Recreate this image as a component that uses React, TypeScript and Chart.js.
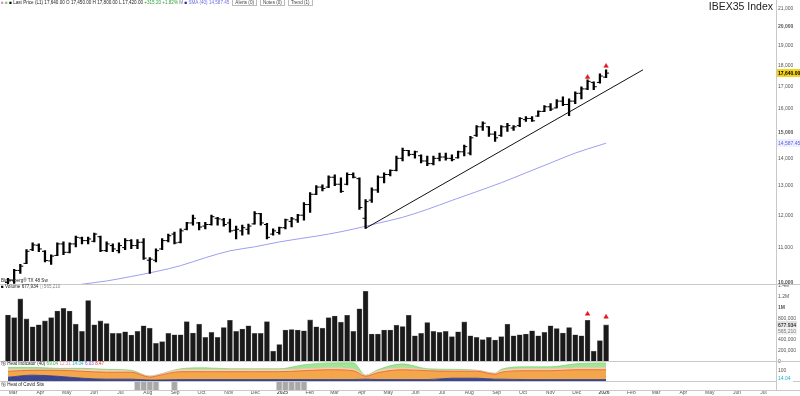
import React, { useEffect, useRef } from "react";
import { Chart, registerables } from "chart.js";

Chart.register(...registerables);

const FONT = "'Liberation Sans', Arial, sans-serif";
const DAY = 86400000;
const WEEK = 7 * DAY;
const FIRST_WEEK = Date.UTC(2024, 1, 26); // week index 0 = week of 26 Feb 2024

// ---- weekly OHLC (IBEX35 Index) ----
const opens = [
  10000, 10060, 10330, 10530, 10930, 11060, 10880, 10600, 10760, 11100,
  10850, 11100, 11280, 11200, 11180, 11320, 10900, 11050, 10900, 10990,
  11200, 11050, 11150, 10620, 10620, 10950, 11200, 11400, 11150, 11550,
  11750, 11750, 11650, 11700, 11900, 11850, 11750, 11520, 11500, 11550,
  11720, 12050, 11700, 11400, 11450, 11600, 11800, 11850, 12000, 12350,
  12700, 12950, 12950, 13300, 13050, 13050, 13400, 13250, 11900, 12500,
  12850, 13300, 13400, 13550, 14000, 14300, 14150, 14100, 13900, 13800,
  14000, 14050, 14000, 14020, 14250, 14200, 14900, 15250, 15250, 14950,
  14900, 15250, 15200, 15300, 15550, 15600, 15700, 15900, 16100, 16050,
  16350, 16200, 16350, 16700, 16900, 17200, 17200, 17450,
];
const highs = [
  10110, 10360, 10500, 10930, 11130, 11100, 10900, 10780, 11130, 11160,
  11130, 11340, 11310, 11310, 11430, 11340, 11160, 11100, 11130, 11260,
  11230, 11230, 11260, 10700, 10950, 11260, 11400, 11460, 11560, 11770,
  12000, 11770, 11770, 12000, 11930, 11900, 11870, 11650, 11680, 11710,
  12120, 12060, 11740, 11560, 11620, 11870, 11930, 12030, 12420, 12760,
  13000, 13030, 13350, 13390, 13280, 13460, 13460, 13280, 12520, 12920,
  13350, 13460, 13570, 14090, 14390, 14310, 14280, 14130, 14090, 14090,
  14200, 14200, 14130, 14280, 14510, 14860, 15300, 15460, 15260, 15050,
  15300, 15390, 15300, 15640, 15680, 15680, 15930, 16150, 16240, 16420,
  16540, 16450, 16770, 16990, 17320, 17230, 17600, 17800,
];
const lows = [
  9960, 9970, 10250, 10520, 10900, 10870, 10570, 10500, 10750, 10780,
  10830, 11010, 11100, 11100, 11160, 10870, 10870, 10870, 10830, 10930,
  10960, 10960, 10640, 10250, 10570, 10930, 11160, 11100, 11130, 11530,
  11680, 11530, 11560, 11680, 11680, 11650, 11460, 11250, 11370, 11400,
  11710, 11680, 11250, 11370, 11400, 11560, 11620, 11770, 11840, 12090,
  12690, 12820, 12930, 13000, 12760, 13030, 13280, 12190, 11580, 12420,
  12760, 13100, 13350, 13530, 13900, 14090, 14010, 13830, 13720, 13750,
  13900, 13930, 13900, 14010, 14090, 14130, 14860, 15100, 14860, 14660,
  14860, 15060, 15100, 15260, 15470, 15470, 15680, 15890, 15930, 16050,
  16150, 15720, 16240, 16450, 16860, 16860, 17170, 17420,
];
const closes = [
  10060, 10330, 10450, 10880, 11070, 10950, 10610, 10740, 11100, 10850,
  11100, 11300, 11200, 11250, 11400, 10900, 11100, 10950, 11050, 11200,
  11050, 11150, 10680, 10650, 10900, 11200, 11350, 11130, 11500, 11750,
  11900, 11620, 11700, 11950, 11880, 11700, 11500, 11550, 11600, 11650,
  12050, 11750, 11300, 11500, 11600, 11850, 11880, 12000, 12350, 12700,
  12950, 12900, 13300, 13050, 12800, 13400, 13300, 12250, 12450, 12850,
  13300, 13400, 13550, 14000, 14300, 14150, 14250, 13900, 13800, 14000,
  14050, 14000, 13950, 14250, 14450, 14800, 15250, 15400, 14950, 14800,
  15250, 15300, 15250, 15600, 15600, 15500, 15900, 16100, 16000, 16350,
  16200, 16350, 16700, 16900, 17250, 17000, 17500, 17640,
];
const volumes = [
  862000, 813000, 1161000, 789000, 642000, 679000, 752000, 813000, 936000, 985000,
  936000, 692000, 556000, 1132000, 679000, 752000, 703000, 519000, 519000, 550000,
  490000, 556000, 661000, 618000, 334000, 367000, 519000, 495000, 495000, 739000,
  527000, 692000, 446000, 538000, 446000, 629000, 765000, 556000, 600000, 661000,
  519000, 519000, 739000, 189000, 312000, 582000, 593000, 582000, 569000, 771000,
  642000, 618000, 813000, 844000, 728000, 857000, 556000, 978000, 1303000, 508000,
  508000, 582000, 582000, 673000, 648000, 857000, 477000, 519000, 721000, 556000,
  538000, 556000, 459000, 550000, 734000, 477000, 446000, 404000, 446000, 398000,
  459000, 692000, 477000, 495000, 508000, 569000, 477000, 538000, 661000, 611000,
  527000, 629000, 495000, 477000, 765000, 189000, 385000, 677934,
];
const volumeAvg = 565210;

// ---- moving average (read at sampled weeks) ----
const maWeeks = [0, 4, 8, 12, 16, 20, 24, 28, 32, 36, 40, 44, 48, 52, 56, 60, 64, 68, 72, 76, 80, 84, 88, 92, 96, 97];
const maValues = [9620, 9720, 9830, 9950, 10040, 10162, 10299, 10465, 10692, 10894, 11013, 11160, 11279, 11400, 11555, 11741, 11931, 12190, 12490, 12790, 13104, 13460, 13826, 14202, 14510, 14587.45];

// ---- trend line ----
const trendWeeks = [58, 103];
const trendValues = [11580, 17800];

// ---- signal markers ----
const signalWeeks = [94, 97];
const signalPrices = [17450, 17980];
const signalVolumes = [881000, 826000];

// ---- indicator pane (stacked layers) ----
const indWeeks = [0, 4, 8, 12, 16, 20, 23, 24, 28, 32, 36, 40, 44, 48, 52, 56, 58, 60, 64, 68, 72, 76, 79, 80, 84, 88, 92, 96, 97];
const indBase = [36, 55, 45, 27, 18, 18, 10, 10, 14, 14, 14, 14, 14, 14, 14, 14, 18, 14, 14, 14, 27, 27, 18, 18, 14, 14, 14, 14, 14];
const indMid = [55, 45, 55, 64, 64, 64, 27, 36, 73, 73, 73, 73, 73, 82, 91, 82, 27, 64, 91, 82, 64, 64, 45, 64, 82, 82, 91, 91, 91];
const indUpper = [18, 9, 9, 18, 18, 9, 9, 9, 18, 18, 18, 18, 18, 18, 18, 18, 9, 18, 18, 9, 9, 9, 9, 18, 18, 18, 18, 18, 18];
const indTop = [18, 18, 9, 9, 9, 9, 0, 0, 9, 18, 9, 9, 9, 36, 45, 55, 0, 9, 36, 9, 9, 0, 0, 9, 18, 18, 36, 45, 45];

// ---- heat pane ----
const heatWeeks = [21, 22, 23, 24, 27, 44, 45, 46, 47, 48];

// ---- axis ticks ----
const priceTicks = [10000, 11000, 12000, 13000, 14000, 15000, 16000, 17000, 18000, 19000, 20000, 21000];
const boldPriceTicks = [10000, 15000, 20000];
const volumeTicks = [0, 200000, 400000, 600000, 800000, 1000000, 1200000, 1400000];
const volumeTickLabels = ["0", "200,000", "400,000", "600,000", "800,000", "1M", "1.2M", "1.4M"];
const indTicks = [100];
const monthTickDates = [
  "2024-03-01", "2024-04-01", "2024-05-01", "2024-06-01", "2024-07-01", "2024-08-01", "2024-09-01", "2024-10-01", "2024-11-01", "2024-12-01",
  "2025-01-01", "2025-02-01", "2025-03-01", "2025-04-01", "2025-05-01", "2025-06-01", "2025-07-01", "2025-08-01", "2025-09-01", "2025-10-01", "2025-11-01", "2025-12-01",
  "2026-01-01", "2026-02-01", "2026-03-01", "2026-04-01", "2026-05-01", "2026-06-01", "2026-07-01",
];
const monthLabels = [
  "Mar", "Apr", "May", "Jun", "Jul", "Aug", "Sep", "Oct", "Nov", "Dec",
  "2025", "Feb", "Mar", "Apr", "May", "Jun", "Jul", "Aug", "Sep", "Oct", "Nov", "Dec",
  "2026", "Feb", "Mar", "Apr", "May", "Jun", "Jul",
];

const wk = (i: number) => FIRST_WEEK + i * WEEK;
const TICK_OFF = 0.24 * WEEK;
const X_MIN = FIRST_WEEK - 0.483 * WEEK;
const X_MAX = FIRST_WEEK + 124.56 * WEEK;

const fmt = (v: number, d = 0) =>
  v.toLocaleString("en-US", { minimumFractionDigits: d, maximumFractionDigits: d });

function drawTag(ctx: CanvasRenderingContext2D, x: number, y: number, w: number, text: string, bg: string, fg: string, bold = false) {
  ctx.fillStyle = bg;
  ctx.fillRect(x, Math.round(y) - 4, w, 8);
  ctx.fillStyle = fg;
  ctx.font = `${bold ? "bold " : ""}5px ${FONT}`;
  ctx.textAlign = "left";
  ctx.textBaseline = "middle";
  ctx.fillText(text, x + 1, Math.round(y) + 0.5);
}

const panesPlugin = {
  id: "panes",
  afterDraw(chart: any) {
    const { ctx, scales, chartArea } = chart;
    const { y, yv, yi, yh } = scales;
    ctx.save();
    ctx.strokeStyle = "#c9c9c9";
    ctx.lineWidth = 1;
    [yv.top, yi.top, yh.top, yh.bottom].forEach((py: number) => {
      const p = Math.round(py) + 0.5;
      ctx.beginPath();
      ctx.moveTo(0, p);
      ctx.lineTo(chart.width, p);
      ctx.stroke();
    });
    ctx.beginPath();
    ctx.moveTo(Math.round(chartArea.right) + 0.5, 0);
    ctx.lineTo(Math.round(chartArea.right) + 0.5, yh.bottom);
    ctx.stroke();

    const tx = chartArea.right + 1;
    drawTag(ctx, tx, y.getPixelForValue(closes[closes.length - 1]), 23, fmt(closes[closes.length - 1], 2), "#f3d31c", "#000", true);
    drawTag(ctx, tx, y.getPixelForValue(maValues[maValues.length - 1]), 23, fmt(maValues[maValues.length - 1], 2), "#eef0ff", "#5d5de0");
    drawTag(ctx, tx, yv.getPixelForValue(volumes[volumes.length - 1]), 20, fmt(volumes[volumes.length - 1]), "#e2e2e2", "#000");
    drawTag(ctx, tx, yv.getPixelForValue(volumeAvg), 20, fmt(volumeAvg), "#f2f2f2", "#777");
    drawTag(ctx, tx, yi.getPixelForValue(30), 16, "14.04", "#ffffff", "#1ab4c8");
    ctx.restore();
  },
};

export default function App() {
  const ref = useRef<HTMLCanvasElement | null>(null);

  useEffect(() => {
    document.body.style.margin = "0";
    const canvas = ref.current;
    if (!canvas) return;

    const yCommon = (weight: number) => ({
      position: "right" as const,
      stack: "panes",
      stackWeight: weight,
      grid: { display: false, drawTicks: false },
      border: { display: true, color: "#c9c9c9" },
      afterFit: (s: any) => {
        s.width = 24;
      },
    });

    const chart = new Chart(canvas, {
      type: "bar",
      data: {
        datasets: [
          {
            type: "bar",
            label: "High-Low",
            data: highs.map((h, i) => ({ x: wk(i), y: [lows[i], h] })) as any,
            xAxisID: "x",
            yAxisID: "y",
            backgroundColor: "#000",
            borderWidth: 0,
            barThickness: 1.6,
            grouped: false,
          },
          {
            type: "line",
            label: "Open",
            data: opens.map((o, i) => ({ x: wk(i) - TICK_OFF, y: o })),
            xAxisID: "x",
            yAxisID: "y",
            showLine: false,
            pointStyle: "line",
            pointRadius: 1.5,
            pointBorderWidth: 1,
            borderColor: "#000",
            pointBorderColor: "#000",
          },
          {
            type: "line",
            label: "Close",
            data: closes.map((c, i) => ({ x: wk(i) + TICK_OFF, y: c })),
            xAxisID: "x",
            yAxisID: "y",
            showLine: false,
            pointStyle: "line",
            pointRadius: 1.5,
            pointBorderWidth: 1,
            borderColor: "#000",
            pointBorderColor: "#000",
          },
          {
            type: "line",
            label: "Signals",
            data: signalWeeks.map((w, i) => ({ x: wk(w), y: signalPrices[i] })),
            xAxisID: "x",
            yAxisID: "y",
            showLine: false,
            pointStyle: "triangle",
            pointRadius: 2.6,
            pointBackgroundColor: "#e8141b",
            pointBorderColor: "#e8141b",
            pointBorderWidth: 0.5,
          },
          {
            type: "line",
            label: "Trend",
            data: trendWeeks.map((w, i) => ({ x: wk(w), y: trendValues[i] })),
            xAxisID: "x",
            yAxisID: "y",
            borderColor: "#111",
            borderWidth: 1,
            pointRadius: 0,
          },
          {
            type: "line",
            label: "SMA",
            data: maWeeks.map((w, i) => ({ x: wk(w), y: maValues[i] })),
            xAxisID: "x",
            yAxisID: "y",
            borderColor: "#9e9ef2",
            borderWidth: 1,
            pointRadius: 0,
            cubicInterpolationMode: "monotone",
          },
          {
            type: "line",
            label: "Volume signals",
            data: signalWeeks.map((w, i) => ({ x: wk(w), y: signalVolumes[i] })),
            xAxisID: "x",
            yAxisID: "yv",
            showLine: false,
            pointStyle: "triangle",
            pointRadius: 2.6,
            pointBackgroundColor: "#e8141b",
            pointBorderColor: "#e8141b",
            pointBorderWidth: 0.5,
          },
          {
            type: "bar",
            label: "Volume",
            data: volumes.map((v, i) => ({ x: wk(i), y: v })),
            xAxisID: "x",
            yAxisID: "yv",
            backgroundColor: "#1a1a1a",
            borderColor: "#6a6a6a",
            borderWidth: 0.6,
            barThickness: 5,
            grouped: false,
          },
          {
            type: "line",
            label: "Layer 1",
            data: indWeeks.map((w, i) => ({ x: wk(w), y: indBase[i] })),
            xAxisID: "x",
            yAxisID: "yi",
            borderColor: "#2e3a86",
            backgroundColor: "#3b4592",
            borderWidth: 0.8,
            pointRadius: 0,
            fill: "origin",
            cubicInterpolationMode: "monotone",
            order: 10,
          },
          {
            type: "line",
            label: "Layer 2",
            data: indWeeks.map((w, i) => ({ x: wk(w), y: indMid[i] })),
            xAxisID: "x",
            yAxisID: "yi",
            borderColor: "#e25a2c",
            backgroundColor: "#f4a74a",
            borderWidth: 0.8,
            pointRadius: 0,
            fill: "-1",
            cubicInterpolationMode: "monotone",
            order: 11,
          },
          {
            type: "line",
            label: "Layer 3",
            data: indWeeks.map((w, i) => ({ x: wk(w), y: indUpper[i] })),
            xAxisID: "x",
            yAxisID: "yi",
            borderColor: "#f3b6a8",
            backgroundColor: "#f8d6aa",
            borderWidth: 0.6,
            pointRadius: 0,
            fill: "-1",
            cubicInterpolationMode: "monotone",
            order: 12,
          },
          {
            type: "line",
            label: "Layer 4",
            data: indWeeks.map((w, i) => ({ x: wk(w), y: indTop[i] })),
            xAxisID: "x",
            yAxisID: "yi",
            borderColor: "#6fcf62",
            backgroundColor: "#a2e596",
            borderWidth: 0.6,
            pointRadius: 0,
            fill: "-1",
            cubicInterpolationMode: "monotone",
            order: 13,
          },
          {
            type: "bar",
            label: "Heat",
            data: heatWeeks.map((w) => ({ x: wk(w), y: 1 })),
            xAxisID: "x",
            yAxisID: "yh",
            backgroundColor: "#a9a9a9",
            borderColor: "#d6d6d6",
            borderWidth: 1,
            barThickness: 6.2,
            grouped: false,
          },
        ],
      },
      options: {
        animation: false,
        responsive: false,
        maintainAspectRatio: false,
        layout: { padding: 0 },
        plugins: {
          legend: { display: false },
          tooltip: { enabled: false },
          title: { display: false },
        },
        scales: {
          x: {
            type: "linear",
            position: "bottom",
            offset: false,
            min: X_MIN,
            max: X_MAX,
            grid: { display: false, drawTicks: false, offset: false },
            border: { display: false },
            afterFit: (s: any) => {
              s.height = 6;
            },
            afterBuildTicks: (s: any) => {
              s.ticks = monthTickDates.map((d) => ({ value: Date.parse(d) }));
            },
            ticks: {
              autoSkip: false,
              maxRotation: 0,
              minRotation: 0,
              align: "center",
              labelOffset: 1.5,
              padding: 0,
              color: "#555",
              font: (c: any) => ({
                size: 5,
                family: FONT,
                weight: /^\d{4}$/.test(monthLabels[c.index] || "") ? "bold" : "normal",
              }),
              callback: (_v: any, idx: number) => monthLabels[idx],
            },
          },
          y: {
            ...yCommon(283),
            type: "logarithmic",
            min: 9947,
            max: 21218,
            afterBuildTicks: (s: any) => {
              s.ticks = priceTicks.map((v) => ({ value: v }));
            },
            ticks: {
              autoSkip: false,
              padding: 2,
              color: "#555",
              font: (c: any) => ({
                size: 5,
                family: FONT,
                weight: boldPriceTicks.includes(c.tick?.value) ? "bold" : "normal",
              }),
              callback: (v: any) => fmt(Number(v)),
            },
          },
          yv: {
            ...yCommon(78),
            type: "linear",
            min: 0,
            max: 1431000,
            afterBuildTicks: (s: any) => {
              s.ticks = volumeTicks.map((v) => ({ value: v }));
            },
            ticks: {
              autoSkip: false,
              padding: 2,
              color: "#555",
              font: (c: any) => ({ size: 5, family: FONT, weight: c.tick?.value === 1000000 ? "bold" : "normal" }),
              callback: (_v: any, idx: number) => volumeTickLabels[idx],
            },
          },
          yi: {
            ...yCommon(20),
            type: "linear",
            stacked: true,
            min: 0,
            max: 182,
            afterBuildTicks: (s: any) => {
              s.ticks = indTicks.map((v) => ({ value: v }));
            },
            ticks: {
              autoSkip: false,
              padding: 2,
              color: "#555",
              font: { size: 5, family: FONT },
              callback: (v: any) => String(v),
            },
          },
          yh: {
            ...yCommon(9),
            type: "linear",
            min: 0,
            max: 1,
            ticks: { display: false },
          },
        },
      } as any,
      plugins: [panesPlugin],
    });
    return () => chart.destroy();
  }, []);

  const tiny: React.CSSProperties = {
    position: "absolute",
    fontFamily: FONT,
    fontSize: 4.6,
    lineHeight: "6px",
    whiteSpace: "nowrap",
    color: "#222",
  };
  const box: React.CSSProperties = {
    border: "0.5px solid #bbb",
    padding: "0 2px",
    marginLeft: 3,
    color: "#444",
  };

  return (
    <div style={{ position: "relative", width: 800, height: 396, background: "#fff", overflow: "hidden" }}>
      <canvas ref={ref} width={800} height={396} style={{ display: "block", width: 800, height: 396 }} />
      <div
        style={{
          position: "absolute",
          right: 27,
          top: 0,
          fontFamily: FONT,
          fontSize: 10.5,
          lineHeight: "13px",
          color: "#222",
        }}
      >
        IBEX35 Index
      </div>
      <div style={{ ...tiny, left: 1, top: 0 }}>
        <span style={{ color: "#e58fb0" }}>■</span> <span style={{ color: "#7fc97f" }}>■</span>{" "}
        <span style={{ color: "#000" }}>■</span> Last Price (L1) 17,640.00 O 17,450.00 H 17,800.00 L 17,420.00{" "}
        <span style={{ color: "#2e9e3a" }}>+315.20 +1.82%</span> <span style={{ color: "#777" }}>M</span>{" "}
        <span style={{ color: "#2020d0" }}>■</span> <span style={{ color: "#6f6fe0" }}>SMA (40) 14,587.45</span>
        <span style={box}>Alerts (0)</span>
        <span style={box}>Notes (0)</span>
        <span style={box}>Trend (1)</span>
      </div>
      <div style={{ ...tiny, left: 1, top: 278 }}>Bloomberg® TX 48 Sw</div>
      <div style={{ ...tiny, left: 1, top: 284 }}>
        <span style={{ color: "#000" }}>■</span> Volume 677,934 <span style={{ color: "#888" }}>▯ 565,210</span>
      </div>
      <div style={{ ...tiny, left: 1, top: 361 }}>
        ⓢ Heat Indicator (40) <span style={{ color: "#3cae3c" }}>69.04</span>{" "}
        <span style={{ color: "#e88aa0" }}>12.31</span> <span style={{ color: "#1ab4c8" }}>14.04</span>{" "}
        <span style={{ color: "#7a4fd0" }}>6.03</span> <span style={{ color: "#e0302a" }}>8.47</span>
      </div>
      <div style={{ ...tiny, left: 1, top: 382 }}>ⓢ Heat of Covid Sits</div>
    </div>
  );
}
